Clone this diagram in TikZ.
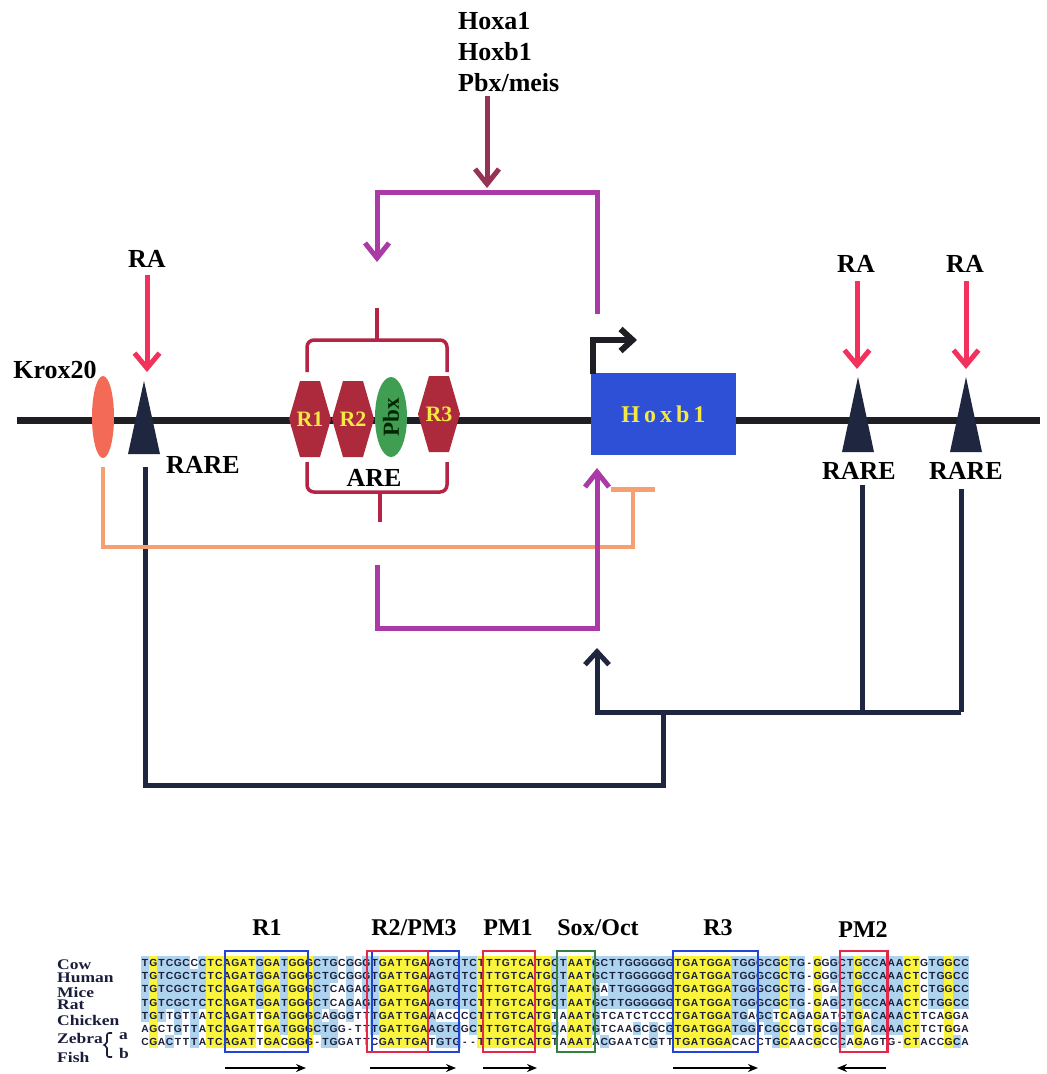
\documentclass[tikz,border=0pt]{standalone}
\usepackage{fontspec}
\setmainfont{Liberation Serif}
\newfontfamily\seqfont{Liberation Sans}
\usetikzlibrary{arrows.meta,shapes.geometric}

\definecolor{dnaline}{HTML}{1E1E24}
\definecolor{raredark}{HTML}{1F2640}
\definecolor{rapink}{HTML}{F2325C}
\definecolor{kroxred}{HTML}{F36B56}
\definecolor{kroxline}{HTML}{F6A072}
\definecolor{arered}{HTML}{AC2A3C}
\definecolor{bracered}{HTML}{B52445}
\definecolor{pbxgreen}{HTML}{3F9E52}
\definecolor{loopmag}{HTML}{A93AA6}
\definecolor{inputred}{HTML}{963253}
\definecolor{genefill}{HTML}{2E50D6}
\definecolor{genetext}{HTML}{F4E845}
\definecolor{seqblue}{HTML}{AED3EE}
\definecolor{seqyellow}{HTML}{FAF53C}
\definecolor{seqink}{HTML}{1A1E3A}
\definecolor{boxblue}{HTML}{2244D8}
\definecolor{boxred}{HTML}{E3284A}
\definecolor{boxgreen}{HTML}{33803F}

% alignment rows, stored letter by letter as \b<row>c<col>
\newcount\colno
\newcount\nsame
\def\gapchar{-}
\def\splitrow#1#2{\global\colno=0 \def\rowid{#1}\splitloop#2\relax}
\def\splitloop#1{%
  \ifx#1\relax\else
    \global\advance\colno by 1
    \expandafter\xdef\csname b\rowid c\the\colno\endcsname{#1}%
    \expandafter\splitloop
  \fi}
\splitrow{1}{TGTCGCCCTC AGATGGATGG GCTGCGGGTG ATTGAAGTGT CTTTGTCATG CTAATGCTTG GGGGGTGATG GATGGGCGCT G-GGGCTGCC AAACTGTGGC C}
\splitrow{2}{TGTCGCTCTC AGATGGATGG GCTGCGGGTG ATTGAAGTGT CTTTGTCATG CTAATGCTTG GGGGGTGATG GATGGGCGCT G-GGGCTGCC AAACTCTGGC C}
\splitrow{3}{TGTCGCTCTC AGATGGATGG GCTCAGAGTG ATTGAAGTGT CTTTGTCATG CTAATGATTG GGGGGTGATG GATGGGCGCT G-GGACTGCC AAACTCTGGC C}
\splitrow{4}{TGTCGCTCTC AGATGGATGG GCTCAGAGTG ATTGAAGTGT CTTTGTCATG CTAATGCTTG GGGGGTGATG GATGGGCGCT G-GAGCTGCC AAACTCTGGC C}
\splitrow{5}{TGTTGTTATC AGATTGATGG GCAGGGTTTG ATTGAAACCC CTTTGTCATG TAAATGTCAT CTCCCTGATG GATGAGCTCA GAGATGTGAC AAACTTCAGG A}
\splitrow{6}{AGCTGTTATC AGATTGATGG GCTGG-TTTG ATTGAAGTGG CTTTGTCATG CAAATGTCAA GCGCGTGATG GATGGTCGCC GTGCGCTGAC AAACTTCTGG A}
\splitrow{7}{CGACTTTATC AGATTGACGG G-TGGATTCG ATTGATGTG- -TTTGTCATG TAAATACGAA TCGTTTGATG GACACCTGCA ACGCCCAGAG TG-CTACCGC A}

% hexagonal ARE element: name, x, y, label
\newcommand{\arehex}[4]{%
  \fill[arered] (#2-10,#3-38) -- (#2+10,#3-38) -- (#2+21,#3) -- (#2+10,#3+38) -- (#2-10,#3+38) -- (#2-21,#3) -- cycle;
  \node[hexlabel] (#1) at (#2,#3) {#4};}
% motif frame over the alignment: colour, left edge, right edge (in columns)
\newcommand{\motifbox}[3]{\draw[#1, line width=2.6pt] ({141+#2*8.2},951) rectangle ({141+#3*8.2},1052);}
% squat species name
\newcommand{\spname}[1]{\scalebox{1}[0.84]{#1}}

\begin{document}
\begin{tikzpicture}[x=1pt, y=-1pt,
  lbl/.style={font=\fontsize{26}{28}\selectfont\bfseries, inner sep=1pt},
  hexlabel/.style={font=\fontsize{22}{24}\selectfont\bfseries, text=genetext, inner sep=0pt},
  motiflbl/.style={font=\fontsize{24}{26}\selectfont\bfseries, inner sep=1pt},
  species/.style={font=\fontsize{17.5}{18}\selectfont\bfseries, text=seqink, anchor=west, inner sep=0pt},
  seqletter/.style={font={\seqfont\bfseries\fontsize{10.3}{11}\selectfont}, text=seqink, inner sep=0pt, text height=7.4pt, text depth=0pt},
  raarrow/.style={draw=rapink, line width=5pt, -{Straight Barb[length=15pt,width=25pt]}},
  feedback/.style={draw=raredark, line width=5pt},
  loopline/.style={draw=loopmag, line width=5pt},
  kroxpath/.style={draw=kroxline, line width=4.5pt},
  arebrace/.style={draw=bracered, line width=3.5pt, rounded corners=7pt},
  motifarrow/.style={draw=black, line width=2pt, -{Stealth[length=10pt,width=8pt]}}]

  \useasboundingbox (0,0) rectangle (1047,1074);
  \fill[white] (0,0) rectangle (1047,1074);

  % DNA
  \coordinate (dnaL) at (17,420);
  \coordinate (dnaR) at (1040,420);
  \draw[draw=dnaline, line width=7pt] (dnaL) -- (dnaR);

  % Krox20 and RAREs
  \node[ellipse, fill=kroxred, minimum width=22pt, minimum height=82pt, inner sep=0pt] (krox) at (103,417) {};
  \node[lbl] (kroxlbl) at (55,370) {Krox20};
  \coordinate (rareL) at (144,381);
  \coordinate (rareM) at (858,377);
  \coordinate (rareR) at (966,377);
  \fill[raredark] (rareL) -- ++(16,73) -- ++(-32,0) -- cycle;
  \fill[raredark] (rareM) -- ++(16,75) -- ++(-32,0) -- cycle;
  \fill[raredark] (rareR) -- ++(16,75) -- ++(-32,0) -- cycle;
  \node[lbl] (rareLlbl) at (203,465) {RARE};
  \node[lbl] (rareMlbl) at (859,471) {RARE};
  \node[lbl] (rareRlbl) at (966,471) {RARE};

  % RA inputs
  \node[lbl] (raL) at (147,259) {RA};
  \node[lbl] (raM) at (856,264) {RA};
  \node[lbl] (raR) at (965,264) {RA};
  \coordinate (raLtip) at (147,372);
  \coordinate (raMtip) at (857,369);
  \coordinate (raRtip) at (966,369);
  \draw[raarrow, shorten <=6pt] (raL.south -| raLtip) -- (raLtip);
  \draw[raarrow, shorten <=7pt] (raM.south -| raMtip) -- (raMtip);
  \draw[raarrow, shorten <=7pt] (raR.south -| raRtip) -- (raRtip);

  % ARE
  \arehex{r1}{310}{419}{R1}
  \arehex{r2}{353}{419}{R2}
  \arehex{r3}{439}{414}{R3}
  \node[ellipse, fill=pbxgreen, minimum width=80pt, minimum height=32pt, inner sep=0pt, rotate=90,
        font=\fontsize{23}{24}\selectfont\bfseries, text=black!85!green] (pbx) at (391,417) {Pbx};
  \draw[arebrace] (307,372) -- (307,340) -- (447,340) -- (447,372);
  \draw[draw=bracered, line width=3.5pt] (377,341) -- (377,308);
  \draw[arebrace] (307,462) -- (307,492) -- (447,492) -- (447,462);
  \draw[draw=bracered, line width=3.5pt] (380,491) -- (380,522);
  \node[lbl] (arelbl) at (374,478) {ARE};

  % Hoxb1 gene and promoter
  \node[rectangle, fill=genefill, minimum width=145pt, minimum height=82pt, inner sep=0pt,
        font=\fontsize{24}{26}\selectfont\bfseries, text=genetext] (hoxb) at (663.5,414) {H\,o\,x\,b\,1};
  \coordinate (tss) at (593,374);
  \coordinate (tssTip) at (637,340);
  \draw[draw=dnaline, line width=6pt, -{Straight Barb[length=12pt,width=22pt]}] (tss) |- (tssTip);

  % feedback from the RAREs
  \coordinate (junM) at (862,712);
  \coordinate (junR) at (961,712);
  \coordinate (fbTurn) at (597,712);
  \coordinate (fbTip) at (597,648);
  \coordinate (fbJoin) at (663,785);
  \coordinate (rareLfoot) at (145,467);
  \draw[feedback, shorten <=4pt] (rareMlbl.south -| junM) -- (junM);
  \draw[feedback, shorten <=8pt] (rareRlbl.south -| junR) -- (junR);
  \draw[feedback, -{Straight Barb[length=13pt,width=24pt]}] (junR) -- (fbTurn) -- (fbTip);
  \draw[feedback] (rareLfoot) |- (fbJoin) -- (fbJoin |- fbTurn);

  % Krox20 repression
  \coordinate (repTurn) at (633,547);
  \coordinate (repBar) at (633,487);
  \draw[kroxpath, shorten <=9pt, -{Bar[width=44pt]}] (krox.south) |- (repTurn) -- (repBar);

  % auto-regulatory loop
  \node[lbl, anchor=base west] (inpA) at (457,29) {Hoxa1};
  \node[lbl, anchor=base west] (inpB) at (457,60) {Hoxb1};
  \node[lbl, anchor=base west] (inpC) at (457,91) {Pbx/meis};
  \coordinate (loopIn) at (487,188);
  \draw[draw=inputred, line width=5pt, shorten <=4pt, -{Straight Barb[length=15pt,width=24pt]}] (inpC.south -| loopIn) -- (loopIn);
  \coordinate (loopTopR) at (597,314);
  \coordinate (areIn) at (377,262);
  \draw[loopline, -{Straight Barb[length=15pt,width=24pt]}] (loopTopR) -- (597,192) -- (377,192) -- (areIn);
  \coordinate (areOut) at (377,565);
  \coordinate (geneIn) at (597,468);
  \draw[loopline, -{Straight Barb[length=15pt,width=24pt]}] (areOut) -- (377,628) -- (597,628) -- (geneIn);

  % alignment letters and shading
  \foreach \cc in {1,...,101}{
    \foreach \rr in {1,...,7}{
      \edef\mine{\csname b\rr c\cc\endcsname}
      \global\nsame=0
      \foreach \kk in {1,...,7}{
        \edef\theirs{\csname b\kk c\cc\endcsname}
        \ifx\mine\theirs\global\advance\nsame by 1 \fi
      }
      \pgfmathsetmacro\xx{141+(\cc-0.5)*8.2}
      \pgfmathsetmacro\yy{963+(\rr-1)*13.1}
      \ifx\mine\gapchar\else
        \ifnum\nsame=7 \fill[seqyellow] (\xx-4.35,\yy-6.8) rectangle (\xx+4.35,\yy+6.8);\fi
        \ifnum\nsame>3 \ifnum\nsame<7 \fill[seqblue] (\xx-4.35,\yy-6.8) rectangle (\xx+4.35,\yy+6.8);\fi\fi
      \fi
      \node[seqletter] (s\rr-\cc) at (\xx,\yy) {\mine};
    }
  }

  % species
  \node[species] (spCow) at (57,965) {\spname{Cow}};
  \node[species] (spHuman) at (57,978) {\spname{Human}};
  \node[species] (spMice) at (57,992) {\spname{Mice}};
  \node[species] (spRat) at (57,1005) {\spname{Rat}};
  \node[species] (spChicken) at (57,1020) {\spname{Chicken}};
  \node[species] (spZebra) at (57,1038) {\spname{Zebra}};
  \node[species] (spFish) at (57,1057) {\spname{Fish}};
  \draw[draw=seqink, line width=1.6pt, rounded corners=2pt] (112,1033) -- (107,1033) -- (107,1044) -- (103,1045) -- (107,1046) -- (107,1057) -- (112,1057);
  \node[species] (spA) at (119,1036) {\spname{a}};
  \node[species] (spB) at (119,1053) {\spname{b}};

  % motifs
  \motifbox{boxblue}{10.24}{20.37}
  \motifbox{boxblue}{28.17}{38.78}
  \motifbox{boxred}{27.56}{35.0}
  \motifbox{boxred}{41.7}{48.05}
  \motifbox{boxgreen}{50.73}{55.37}
  \motifbox{boxblue}{64.88}{75.24}
  \motifbox{boxred}{85.24}{91.0}
  \node[motiflbl] (mR1) at (267,928) {R1};
  \node[motiflbl] (mR2) at (414,928) {R2/PM3};
  \node[motiflbl] (mPM1) at (508,928) {PM1};
  \node[motiflbl] (mSox) at (598,928) {Sox/Oct};
  \node[motiflbl] (mR3) at (718,928) {R3};
  \node[motiflbl] (mPM2) at (863,930) {PM2};
  \draw[motifarrow] (225,1068) -- (306,1068);
  \draw[motifarrow] (370,1068) -- (456,1068);
  \draw[motifarrow] (483,1068) -- (537,1068);
  \draw[motifarrow] (673,1068) -- (758,1068);
  \draw[motifarrow] (886,1068) -- (837,1068);
\end{tikzpicture}
\end{document}
